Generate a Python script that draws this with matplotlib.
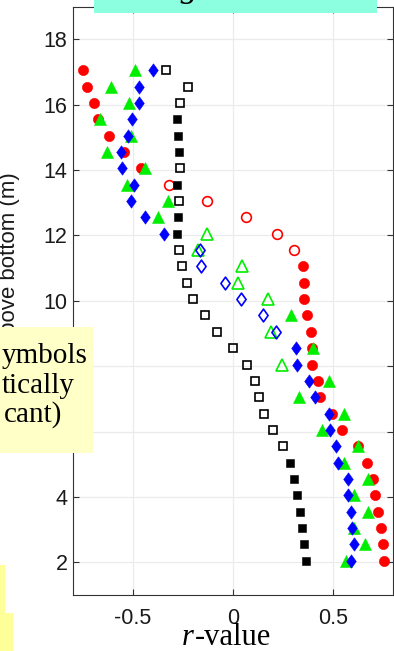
import matplotlib
matplotlib.use("Agg")
import matplotlib.pyplot as plt
from matplotlib.patches import Rectangle
from matplotlib.path import Path

# ---------------- data (top row first: 17.05 m down to 2.05 m) ----------------
height_m = [17.05, 16.55, 16.05, 15.55, 15.05, 14.55, 14.05, 13.55, 13.05, 12.55,
            12.05, 11.55, 11.05, 10.55, 10.05, 9.55, 9.05, 8.55, 8.05, 7.55,
            7.05, 6.55, 6.05, 5.55, 5.05, 4.55, 4.05, 3.55, 3.05, 2.55, 2.05]

r_red = [-0.752, -0.728, -0.695, -0.673, -0.622, -0.543, -0.460, -0.318, -0.132, 0.063,
         0.218, 0.305, 0.352, 0.355, 0.357, 0.372, 0.390, 0.393, 0.393, 0.423,
         0.435, 0.493, 0.547, 0.627, 0.672, 0.702, 0.710, 0.727, 0.740, 0.752, 0.757]
sig_red = [1, 1, 1, 1, 1, 1, 1, 0, 0, 0,
           0, 0, 1, 1, 1, 1, 1, 1, 1, 1,
           1, 1, 1, 1, 1, 1, 1, 1, 1, 1, 1]

r_green = [-0.488, -0.612, -0.518, -0.665, -0.510, -0.632, -0.442, -0.532, -0.327, -0.377,
           -0.132, -0.177, 0.043, 0.027, 0.173, 0.288, 0.188, 0.402, 0.247, 0.480,
           0.330, 0.555, 0.447, 0.623, 0.557, 0.673, 0.605, 0.677, 0.605, 0.660, 0.563]
sig_green = [1, 1, 1, 1, 1, 1, 1, 1, 1, 1,
             0, 0, 0, 0, 0, 1, 0, 1, 0, 1,
             1, 1, 1, 1, 1, 1, 1, 1, 1, 1, 1]

r_blue = [-0.398, -0.472, -0.468, -0.507, -0.523, -0.560, -0.553, -0.493, -0.512, -0.440,
          -0.345, -0.165, -0.162, -0.040, 0.040, 0.152, 0.215, 0.315, 0.322, 0.380,
          0.410, 0.482, 0.485, 0.515, 0.527, 0.573, 0.573, 0.590, 0.593, 0.607, 0.588]
sig_blue = [1, 1, 1, 1, 1, 1, 1, 1, 1, 1,
            1, 0, 0, 0, 0, 0, 0, 1, 1, 1,
            1, 1, 1, 1, 1, 1, 1, 1, 1, 1, 1]

r_black = [-0.335, -0.227, -0.265, -0.278, -0.273, -0.270, -0.267, -0.278, -0.270, -0.273,
           -0.282, -0.268, -0.253, -0.232, -0.198, -0.138, -0.078, -0.002, 0.068, 0.110,
           0.132, 0.157, 0.202, 0.248, 0.285, 0.305, 0.322, 0.335, 0.343, 0.355, 0.363]
sig_black = [0, 0, 0, 1, 1, 1, 0, 1, 0, 1,
             1, 0, 0, 0, 0, 0, 0, 0, 0, 0,
             0, 0, 0, 0, 1, 1, 1, 1, 1, 1, 1]

x_ticks = [-0.5, 0, 0.5]
x_ticklabels = ["-0.5", "0", "0.5"]
y_ticks = [2, 4, 6, 8, 10, 12, 14, 16, 18]
y_ticklabels = ["2", "4", "6", "8", "10", "12", "14", "16", "18"]

# ---------------- figure ----------------
W, H = 394, 651
fig = plt.figure(figsize=(W / 100, H / 100), dpi=100)
fig.patch.set_facecolor("white")


def fx(px):
    return px / W


def fy(py):
    return 1 - py / H


ax = fig.add_axes([fx(73), fy(595), 320 / W, (595 - 6.5) / H])
ax.set_xlim(-0.8, 0.8)
ax.set_ylim(1, 19)

diamond = Path([(0, 1), (0.72, 0), (0, -1), (-0.72, 0), (0, 1)],
               [Path.MOVETO, Path.LINETO, Path.LINETO, Path.LINETO, Path.CLOSEPOLY])

series = [
    (r_red, sig_red, "#ff0000", "o", 7.4, 7.0),
    (r_green, sig_green, "#00ee00", "^", 8.6, 8.0),
    (r_blue, sig_blue, "#0000ff", diamond, 9.6, 9.2),
    (r_black, sig_black, "#000000", "s", 6.0, 6.0),
]

for vals, sig, col, mk, ms_f, ms_o in series:
    xf = [v for v, s in zip(vals, sig) if s]
    yf = [h for h, s in zip(height_m, sig) if s]
    xo = [v for v, s in zip(vals, sig) if not s]
    yo = [h for h, s in zip(height_m, sig) if not s]
    ax.plot(xf, yf, linestyle="none", marker=mk, markersize=ms_f,
            markerfacecolor=col, markeredgecolor=col, markeredgewidth=0.4, zorder=3)
    ax.plot(xo, yo, linestyle="none", marker=mk, markersize=ms_o,
            markerfacecolor="none", markeredgecolor=col, markeredgewidth=1.2, zorder=3)

ax.set_xticks(x_ticks)
ax.set_xticklabels(x_ticklabels)
ax.set_yticks(y_ticks)
ax.set_yticklabels(y_ticklabels)
ax.grid(True, color="#ebebeb", linewidth=0.9, zorder=0)
ax.set_axisbelow(True)
for sp in ax.spines.values():
    sp.set_color("#333333")
    sp.set_linewidth(0.8)
ax.tick_params(axis="both", direction="in", length=4, width=0.8, color="#333333",
               top=True, right=True, labelsize=15.5, labelcolor="#1a1a1a")
ax.tick_params(axis="x", pad=9)
ax.tick_params(axis="y", pad=4)
for lab in ax.get_xticklabels() + ax.get_yticklabels():
    lab.set_fontfamily("Liberation Sans")

# y label (partly hidden behind the yellow note)
fig.text(fx(10), fy(172), "Height above bottom (m)", rotation=90,
         ha="center", va="top", fontsize=16, family="Liberation Sans",
         color="#1a1a1a")

# x label: italic r + "-value"
fig.text(fx(182), fy(645), "r", ha="left", va="baseline", fontsize=22,
         family="Liberation Serif", style="italic")
fig.text(fx(195), fy(645), "-value", ha="left", va="baseline", fontsize=22,
         family="Liberation Serif")

# top banner (cut by the frame)
fig.patches.append(Rectangle((fx(94), fy(13)), (377 - 94) / W, 13 / H,
                             transform=fig.transFigure, facecolor="#8cffe0",
                             edgecolor="none", zorder=5))
fig.text(fx(239), fy(-3.5), "Along-shore wind", ha="center", va="baseline",
         fontsize=25, family="Liberation Serif", style="italic", zorder=6)

# left yellow note (cut by the frame)
fig.patches.append(Rectangle((0, fy(453)), 93 / W, (453 - 327) / H,
                             transform=fig.transFigure, facecolor="#ffffc8",
                             edgecolor="none", zorder=5))
for txt, xr, yb in [("ymbols", 87.5, 363), ("tically", 74.5, 393), ("cant)", 62, 422)]:
    fig.text(fx(xr), fy(yb), txt, ha="right", va="baseline", fontsize=21,
             family="Liberation Serif", color="black", zorder=6)

# bottom-left yellow shapes
fig.patches.append(Rectangle((0, 0), 5 / W, (651 - 565) / H,
                             transform=fig.transFigure, facecolor="#ffff99",
                             edgecolor="none", zorder=5))
fig.patches.append(Rectangle((0, 0), 13 / W, (651 - 613) / H,
                             transform=fig.transFigure, facecolor="#ffff99",
                             edgecolor="none", zorder=5))

fig.savefig("out.png", dpi=100)
